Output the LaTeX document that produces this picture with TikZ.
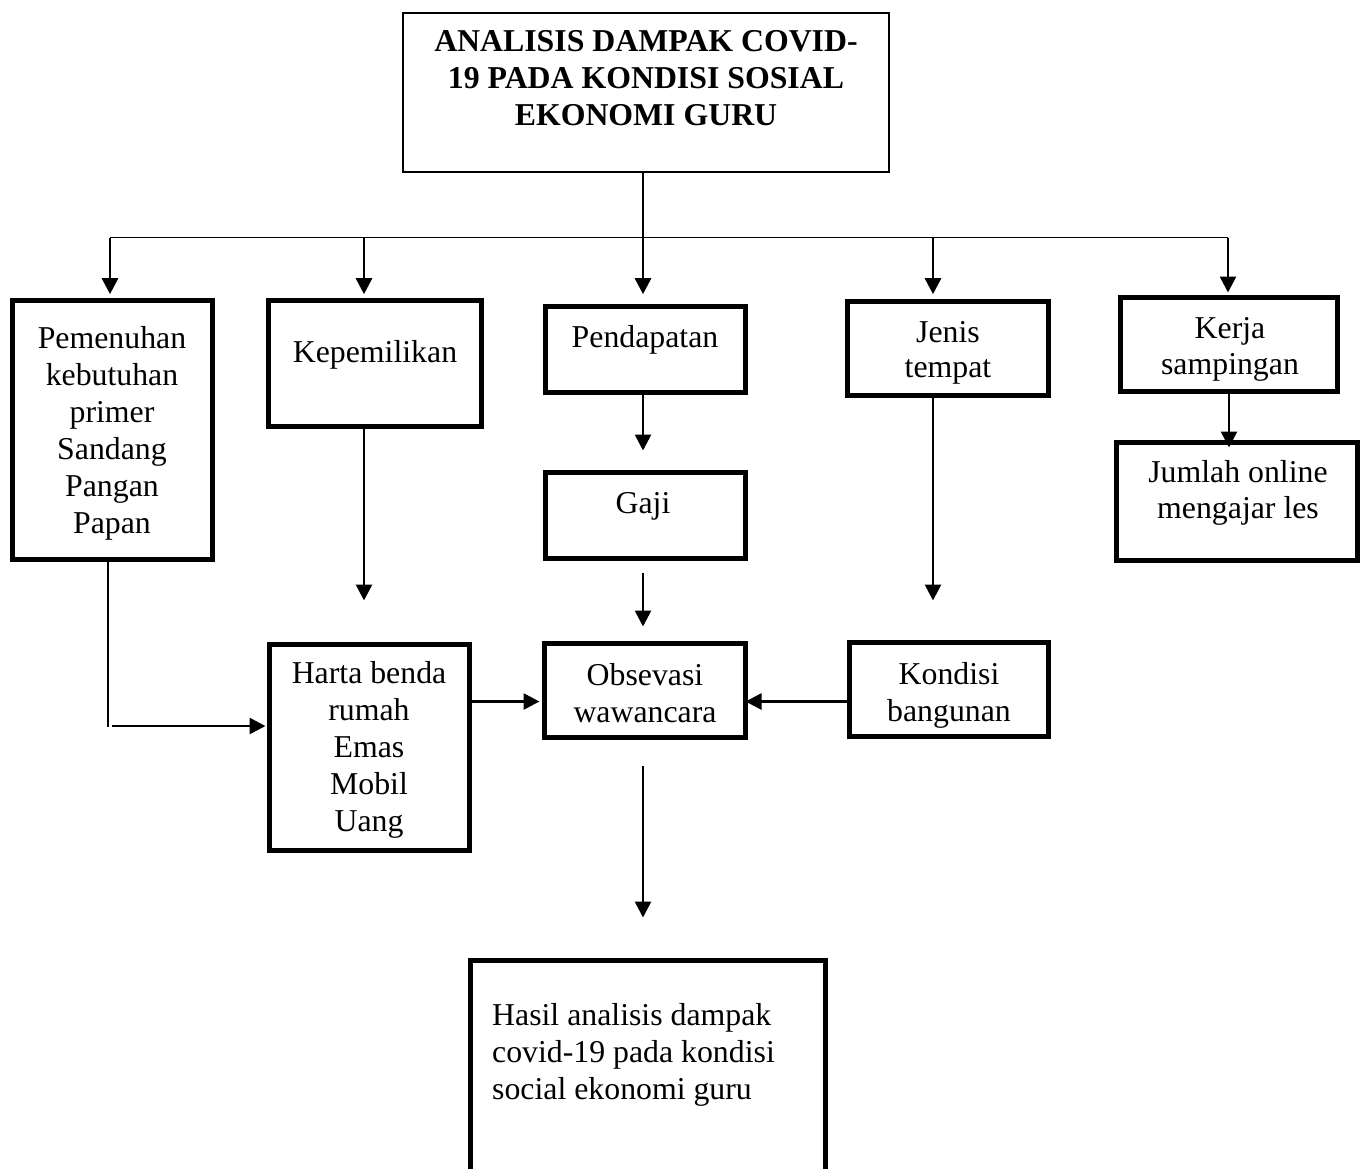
\documentclass[tikz,border=0pt]{standalone}
\usepackage{fontspec}
\setmainfont{Liberation Serif}
\usetikzlibrary{arrows.meta}
\newcommand\mylinesc[1]{\begin{tabular}[t]{@{}c@{}}#1\end{tabular}}
\newcommand\mylinesl[1]{\begin{tabular}[t]{@{}l@{}}#1\end{tabular}}
\tikzset{
  box/.style={draw, line width=5pt, inner sep=0pt, rectangle},
  titlebox/.style={draw, line width=2pt, inner sep=0pt, rectangle},
  lbl/.style={inner sep=0pt, anchor=base, font=\fontsize{31.8}{37}\selectfont},
  conn/.style={line width=2.7pt},
  arr/.style={conn, -{Triangle[width=16pt,length=16pt]}},
}
\begin{document}
\begin{tikzpicture}[x=1pt,y=-1pt]
\clip (0,0) rectangle (1360,1168);
\fill[white] (0,0) rectangle (1360,1168);

% boxes
\node[titlebox, minimum width=486pt, minimum height=159pt] (t) at (646,92.2) {};
\node[box, minimum width=199.5pt, minimum height=259pt] (b1) at (112.25,430) {};
\node[box, minimum width=212.5pt, minimum height=125.5pt] (b2) at (374.75,363.25) {};
\node[box, minimum width=200pt, minimum height=85.5pt] (b3) at (645,349.25) {};
\node[box, minimum width=201pt, minimum height=94pt] (b4) at (948,348) {};
\node[box, minimum width=217pt, minimum height=94pt] (b5) at (1229,344.5) {};
\node[box, minimum width=241pt, minimum height=117.5pt] (jl) at (1237,501.25) {};
\node[box, minimum width=200pt, minimum height=86pt] (gj) at (645,515.5) {};
\node[box, minimum width=200pt, minimum height=206.5pt] (hb) at (369.5,747.25) {};
\node[box, minimum width=200.5pt, minimum height=94pt] (ob) at (644.75,690.5) {};
\node[box, minimum width=199pt, minimum height=94pt] (kb) at (949,689.5) {};
\node[box, minimum width=355pt, minimum height=224.5pt] (hs) at (647.5,1072.75) {};

% texts
\node[lbl, font=\fontsize{31.8}{36.7}\selectfont\bfseries] (tt) at (646,51.7) {\mylinesc{ANALISIS DAMPAK COVID-\\19 PADA KONDISI SOSIAL\\EKONOMI GURU}};
\node[lbl] (b1t) at (112,348) {\mylinesc{Pemenuhan\\kebutuhan\\primer\\Sandang\\Pangan\\Papan}};
\node[lbl] (b2t) at (375,362) {\mylinesc{Kepemilikan}};
\node[lbl] (b3t) at (645,347) {\mylinesc{Pendapatan}};
\node[lbl, font=\fontsize{31.8}{35}\selectfont] (b4t) at (948,342) {\mylinesc{Jenis\\tempat}};
\node[lbl, font=\fontsize{31.8}{36}\selectfont] (b5t) at (1230,338) {\mylinesc{Kerja\\sampingan}};
\node[lbl, font=\fontsize{31.8}{36}\selectfont] (jlt) at (1238,482) {\mylinesc{Jumlah online\\mengajar les}};
\node[lbl] (gjt) at (643,513) {\mylinesc{Gaji}};
\node[lbl] (hbt) at (369,683) {\mylinesc{Harta benda\\rumah\\Emas\\Mobil\\Uang}};
\node[lbl] (obt) at (645,685) {\mylinesc{Obsevasi\\wawancara}};
\node[lbl] (kbt) at (949,684) {\mylinesc{Kondisi\\bangunan}};
\node[lbl, anchor=base west] (hst) at (492,1025) {\mylinesl{Hasil analisis dampak\\covid-19 pada kondisi\\social ekonomi guru}};

% coordinates
\coordinate (h1) at (110,237.5);
\coordinate (h2) at (364,237.5);
\coordinate (h3) at (643,237.5);
\coordinate (h4) at (933,237.5);
\coordinate (h5) at (1228,237.5);
\coordinate (c1) at (108,726);
\coordinate (mid) at (644,701.5);

% trunk and branch
\draw[line width=2pt] (t.south -| h3) -- (h3);
\draw[line width=1.8pt] (h1) -- (h5);
\draw[arr, shorten >=3.8pt] (h1) -- (h1 |- b1.north);
\draw[arr, shorten >=3.8pt] (h2) -- (h2 |- b2.north);
\draw[arr, shorten >=9.8pt] (h3) -- (h3 |- b3.north);
\draw[arr, shorten >=4.3pt] (h4) -- (h4 |- b4.north);
\draw[arr, shorten >=2.5pt] (h5) -- (h5 |- b5.north);

% vertical links
\draw[arr, shorten >=-7.5pt] (b5.south) -- (b5.south |- jl.north);
\draw[arr, shorten >=19.5pt] (h3 |- b3.south) -- (h3 |- gj.north);
\draw[arr, shorten <=11.5pt, shorten >=14.5pt] (h3 |- gj.south) -- (h3 |- ob.north);
\draw[arr, shorten >=41pt] (h2 |- b2.south) -- (h2 |- hb.north);
\draw[arr, shorten >=39.5pt] (h4 |- b4.south) -- (h4 |- kb.north);
\draw[arr, shorten <=25.5pt, shorten >=40.5pt] (h3 |- ob.south) -- (h3 |- hs.north);

% Pemenuhan to Harta
\draw[line width=2pt] (b1.south -| c1) -- ([yshift=-1pt]c1);
\draw[arr, shorten <=4pt, shorten >=1.5pt] (c1) -- (c1 -| hb.west);

% into Obsevasi
\draw[arr, shorten >=2.5pt] (hb.east |- mid) -- (ob.west |- mid);
\draw[arr, shorten >=-2pt] (kb.west |- mid) -- (ob.east |- mid);
\end{tikzpicture}
\end{document}
